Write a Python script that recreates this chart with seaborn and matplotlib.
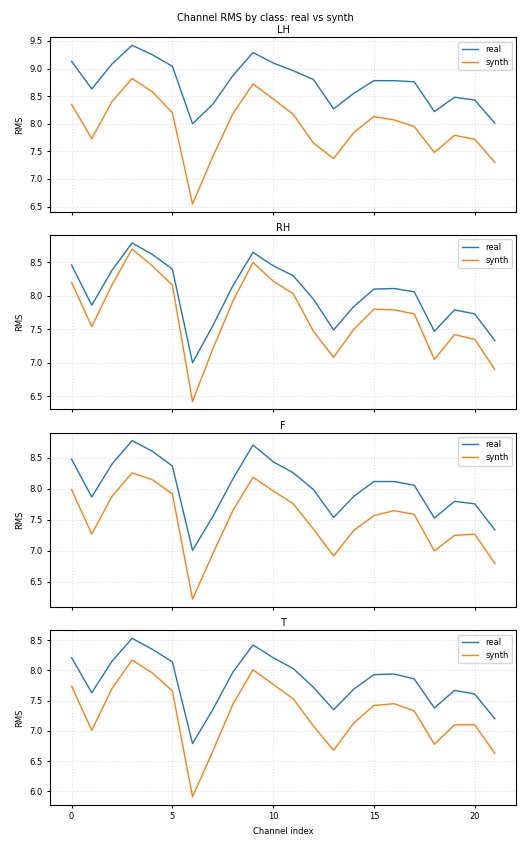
import numpy as np
import pandas as pd
import matplotlib
matplotlib.use("Agg")
import matplotlib.pyplot as plt
import seaborn as sns

channels = list(range(22))
classes = ["LH", "RH", "F", "T"]

lh_real = [9.13, 8.63, 9.08, 9.42, 9.25, 9.04, 8.00, 8.35, 8.87, 9.29, 9.10, 8.96, 8.80, 8.27, 8.55, 8.78, 8.78, 8.76, 8.22, 8.48, 8.43, 8.01]
lh_synth = [8.35, 7.73, 8.40, 8.82, 8.58, 8.20, 6.55, 7.40, 8.18, 8.72, 8.45, 8.17, 7.65, 7.37, 7.84, 8.13, 8.07, 7.95, 7.48, 7.79, 7.72, 7.30]
rh_real = [8.46, 7.86, 8.38, 8.79, 8.62, 8.40, 7.00, 7.55, 8.15, 8.65, 8.45, 8.30, 7.95, 7.49, 7.84, 8.10, 8.11, 8.06, 7.47, 7.79, 7.73, 7.33]
rh_synth = [8.20, 7.54, 8.16, 8.70, 8.45, 8.16, 6.42, 7.20, 7.92, 8.50, 8.22, 8.03, 7.47, 7.08, 7.50, 7.80, 7.79, 7.73, 7.05, 7.42, 7.35, 6.90]
f_real = [8.48, 7.87, 8.40, 8.78, 8.61, 8.37, 7.01, 7.55, 8.16, 8.71, 8.44, 8.26, 7.99, 7.54, 7.88, 8.12, 8.12, 8.06, 7.53, 7.80, 7.76, 7.34]
f_synth = [7.99, 7.27, 7.88, 8.26, 8.15, 7.92, 6.22, 6.95, 7.65, 8.19, 7.97, 7.76, 7.35, 6.92, 7.33, 7.57, 7.65, 7.59, 7.00, 7.25, 7.27, 6.80]
t_real = [8.21, 7.63, 8.15, 8.53, 8.35, 8.14, 6.79, 7.35, 7.97, 8.42, 8.21, 8.03, 7.72, 7.35, 7.69, 7.93, 7.94, 7.86, 7.38, 7.67, 7.61, 7.20]
t_synth = [7.74, 7.01, 7.70, 8.17, 7.96, 7.66, 5.91, 6.66, 7.44, 8.01, 7.77, 7.53, 7.08, 6.68, 7.13, 7.42, 7.45, 7.33, 6.78, 7.10, 7.10, 6.63]

series = {
    "LH": (lh_real, lh_synth),
    "RH": (rh_real, rh_synth),
    "F": (f_real, f_synth),
    "T": (t_real, t_synth),
}

fig, axes = plt.subplots(4, 1, figsize=(5.31, 8.51), dpi=100, sharex=True)

for ax, cls in zip(axes, classes):
    real, synth = series[cls]
    df = pd.DataFrame({
        "channel": channels * 2,
        "rms": real + synth,
        "kind": ["real"] * len(channels) + ["synth"] * len(channels),
    })
    sns.lineplot(data=df, x="channel", y="rms", hue="kind", ax=ax,
                 palette=["#1f77b4", "#ff7f0e"], linewidth=1.0)
    ax.set_title(cls, fontsize=7, pad=3)
    ax.set_ylabel("RMS", fontsize=6)
    ax.set_xlabel("")
    ax.tick_params(labelsize=6, length=2)
    ax.grid(True, linestyle=":", alpha=0.4)
    ax.legend(fontsize=6, loc="upper right")

axes[-1].set_xlabel("Channel index", fontsize=6)
axes[-1].set_xticks([0, 5, 10, 15, 20])
fig.tight_layout(rect=(0, 0, 1, 0.988), h_pad=0.6)
fig.suptitle("Channel RMS by class: real vs synth", fontsize=7, y=0.985)
fig.savefig("out.png")
